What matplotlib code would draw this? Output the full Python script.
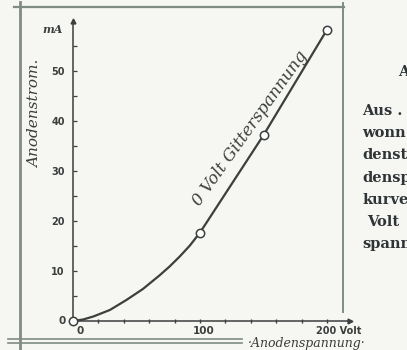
import matplotlib
matplotlib.use("Agg")
import matplotlib.pyplot as plt
from matplotlib.lines import Line2D

# values (anode voltage in V, anode current in mA)
volts = [0, 8, 16, 29, 42, 55, 68, 76, 84, 92, 100, 150, 200]
milliamps = [0, 0.3, 0.9, 2.2, 4.2, 6.4, 9.1, 10.9, 12.9, 15.1, 17.7, 37.2, 58.3]

# measured points marked with small circles
point_volts = [0, 100, 150, 200]
point_milliamps = [0, 17.7, 37.2, 58.3]

y_ticks = [10, 20, 30, 40, 50]
y_minor = [5, 15, 25, 35, 45, 55]
x_minor = [20, 40, 60, 80, 100, 120, 140, 160, 180, 200]

side_text = ["Aus .", "wonn", "denst", "densp", "kurve", "Volt", "spann"]

ink = "#3b3f3d"
paper = "#f6f6f3"
frame_col = "#7f8c86"

fig = plt.figure(figsize=(4.07, 3.5), dpi=100, facecolor=paper)
W, H = 407.0, 350.0

def fx(px):
    return px / W

def fy(py):
    return 1 - py / H

# page frame drawn around the figure
for xs, ys, lw in [([20, 20], [2, 350], 2.0),
                   ([14, 344], [7, 7], 1.6),
                   ([343, 343], [3, 312], 1.4),
                   ([8, 242], [339, 339], 1.2),
                   ([8, 242], [343, 343], 1.2)]:
    fig.add_artist(Line2D([fx(v) for v in xs], [fy(v) for v in ys],
                          color=frame_col, lw=lw, transform=fig.transFigure))

ax = fig.add_axes([fx(73), fy(321), fx(350) - fx(73), fy(21) - fy(321)])
ax.set_facecolor("none")
ax.set_xlim(0, 218)
ax.set_ylim(0, 60)

for side in ["top", "right"]:
    ax.spines[side].set_visible(False)
for side in ["left", "bottom"]:
    ax.spines[side].set_color(ink)
    ax.spines[side].set_linewidth(1.1)

ax.plot(1, 0, ">", color=ink, ms=3.5, transform=ax.transAxes, clip_on=False)
ax.plot(0, 1, "^", color=ink, ms=3.5, transform=ax.transAxes, clip_on=False)

ax.set_yticks(y_ticks)
ax.set_yticks(y_minor, minor=True)
ax.set_yticklabels([str(v) for v in y_ticks])
ax.set_xticks(x_minor, minor=True)
ax.set_xticks([])
ax.tick_params(axis="y", which="both", direction="in", length=3, width=0.9,
               color=ink, labelsize=7, labelcolor=ink, pad=6)
ax.tick_params(axis="x", which="minor", direction="inout", length=3, width=1.0,
               color=ink)
for lab in ax.get_yticklabels():
    lab.set_fontweight("bold")

ax.plot(volts, milliamps, color=ink, lw=1.6, clip_on=False, zorder=3,
        solid_joinstyle="round")
ax.plot(point_volts, point_milliamps, "o", ms=6, mfc="white", mec=ink,
        mew=1.1, clip_on=False, zorder=4)

hand = dict(color=ink, style="italic", family="DejaVu Serif")
ax.text(-0.025, 0.0, "0", transform=ax.transAxes, fontsize=7.5, ha="right",
        va="center", fontweight="bold", color=ink)
ax.text(6, -1.0, "0", fontsize=7.5, ha="center", va="top", fontweight="bold",
        color=ink)
ax.text(103, -1.0, "100", fontsize=7.5, ha="center", va="top",
        fontweight="bold", color=ink)
ax.text(191, -1.0, "200 Volt", fontsize=7, ha="left", va="top",
        fontweight="bold", color=ink)
ax.text(-0.075, 0.99, "mA", transform=ax.transAxes, fontsize=8, ha="center",
        va="top", fontweight="bold", **hand)
ax.text(139.5, 38.5, "0 Volt Gitterspannung", fontsize=12, rotation=54.5,
        ha="center", va="center", **hand)

fig.text(fx(35), fy(114), "Anodenstrom.", rotation=90, fontsize=11,
         ha="center", va="center", **hand)
fig.text(fx(248), fy(343.5), "\u00b7Anodenspannung\u00b7", fontsize=9,
         ha="left", va="center", **hand)

# page text running beside the drawing, cut off by the scan edge
fig.text(fx(398), fy(72), "A", fontsize=10.5, fontweight="bold",
         family="DejaVu Serif", color="#2f3436", ha="left", va="center")
for i, line in enumerate(side_text):
    x0 = 367 if line == "Volt" else 362
    fig.text(fx(x0), fy(111 + i * 22.2), line, fontsize=10.5,
             fontweight="bold", family="DejaVu Serif", color="#2f3436",
             ha="left", va="center")

fig.savefig("out.png", dpi=100, facecolor=paper)
